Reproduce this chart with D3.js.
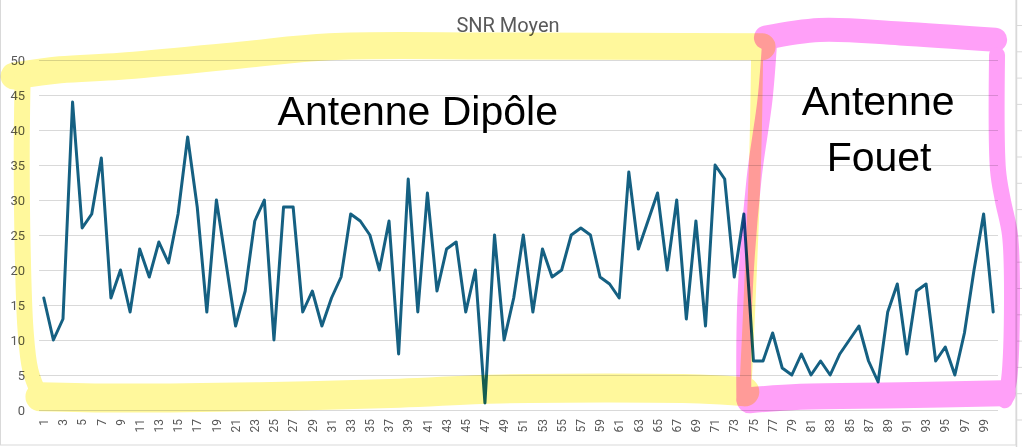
<!DOCTYPE html>
<html><head><meta charset="utf-8">
<script src="https://cdn.jsdelivr.net/npm/d3@7/dist/d3.min.js"></script>
<style>
html,body{margin:0;padding:0;background:#fff;}
svg{display:block;}
</style></head>
<body>
<svg id="chart" width="1022" height="447"></svg>
<script>
// ---- data ----
const categories = d3.range(1, 101).map(String);
const snrValues = [
  16,10,13,44,26,28,36,16,20,14,
  23,19,24,21,28,39,29,14,30,21,
  12,17,27,30,10,29,29,14,17,12,
  16,19,28,27,25,20,27,8,33,14,
  31,17,23,24,14,20,1,25,10,16,
  25,14,23,19,20,25,26,25,19,18,
  16,34,23,27,31,20,30,13,27,12,
  35,33,19,28,7,7,11,6,5,8,
  5,7,5,8,10,12,7,4,14,18,
  8,17,18,7,9,5,11,20,28,14
];
const yTicks = [0,5,10,15,20,25,30,35,40,45,50];
const xTickLabels = categories.filter((c,i) => i % 2 === 0);
const chartTitle = "SNR Moyen";
const labelDipole = "Antenne Dipôle";
const labelFouet = ["Antenne", "Fouet"];

// annotation strokes, in data space [category index, value]
const yellowTop = [[-2.1,47.7],[2.7,48.6],[9,49.1],[21.5,50.7],[30.8,51.9],[48.6,52],[75.9,51.9]];
const yellowLeft = [[-1.2,47.9],[-1.3,37.1],[-1.2,22.9],[-0.9,11.4],[-0.4,5.7],[0.6,2.0]];
const yellowBottom = [[0.6,1.9],[9,1.7],[23.5,1.9],[38.1,2.4],[48.6,3.0],[69.4,3.0],[74.1,2.6]];
const yellowRight = [[75.4,52.9],[75.2,37.1],[74.6,15.7],[74.1,1.4]];
const pinkTop = [[76.3,53.2],[81.9,54.3],[90.3,53.8],[100.2,52.9]];
const pinkRight = [[100.4,50.7],[100.5,34.3],[101.0,30],[101.75,25],[101.96,15.7],[101.65,4.3],[101.2,1.4]];
const pinkBottom = [[101,2.4],[90.3,2.1],[79.9,1.9],[74.6,1.4]];
const pinkLeft = [[76.7,52.9],[76.2,44.3],[75.05,32.9],[74.1,15.7],[74.0,1.4]];

// ---- layout ----
const svg = d3.select("#chart");
const W = 1022, H = 447;
const plot = {left: 39, right: 998, top: 60, bottom: 410};

const x = d3.scaleBand().domain(categories).range([plot.left, plot.right]).padding(0);
const xc = c => x(c) + x.bandwidth() / 2;
const xi = d3.scaleLinear().domain([0.5, 100.5]).range([plot.left, plot.right]);
const y = d3.scaleLinear().domain([0, 50]).range([plot.bottom, plot.top]);

// chart frame
svg.append("rect").attr("x", 0.5).attr("y", -5).attr("width", 1015.5).attr("height", 450)
  .attr("fill", "none").attr("stroke", "#d9d9d9").attr("stroke-width", 1);
svg.append("line").attr("x1", 1016.5).attr("x2", 1016.5).attr("y1", 0).attr("y2", H)
  .attr("stroke", "#d9d9d9").attr("stroke-width", 1.5);
// neighbouring chart gridline stubs
svg.append("g").selectAll("line").data(d3.range(16)).join("line")
  .attr("x1", 1017).attr("x2", W).attr("y1", d => 25.5 + d * 26.3).attr("y2", d => 25.5 + d * 26.3)
  .attr("stroke", "#d9d9d9");

// gridlines
svg.append("g").selectAll("line").data(yTicks).join("line")
  .attr("x1", plot.left).attr("x2", plot.right)
  .attr("y1", d => Math.round(y(d)) + 0.5).attr("y2", d => Math.round(y(d)) + 0.5)
  .attr("stroke", "#d9d9d9").attr("stroke-width", 1);

// y labels
svg.append("g").selectAll("text").data(yTicks).join("text")
  .attr("x", 25).attr("y", d => y(d)).attr("dy", "0.35em")
  .attr("text-anchor", "end")
  .attr("font-family", "Roboto, 'Liberation Sans', sans-serif")
  .attr("font-size", 13).attr("fill", "#595959")
  .text(d => d);

// x labels
svg.append("g").selectAll("text").data(xTickLabels).join("text")
  .attr("transform", d => `translate(${xc(d)},419) rotate(-90)`)
  .attr("dy", "0.35em").attr("text-anchor", "end")
  .attr("font-family", "Roboto, 'Liberation Sans', sans-serif")
  .attr("font-size", 12).attr("fill", "#595959")
  .text(d => d);

// title
svg.append("text").attr("x", 508).attr("y", 32).attr("text-anchor", "middle")
  .attr("font-family", "Roboto, 'Liberation Sans', sans-serif")
  .attr("font-size", 20).attr("fill", "#595959").text(chartTitle);

// data line
const line = d3.line().x((d, i) => xc(categories[i])).y(d => y(d));
svg.append("path").datum(snrValues).attr("d", line)
  .attr("fill", "none").attr("stroke", "#156082").attr("stroke-width", 3)
  .attr("stroke-linejoin", "round").attr("stroke-linecap", "round");

// annotations (highlighter)
const aLine = d3.line().x(d => xi(d[0])).y(d => y(d[1])).curve(d3.curveCatmullRom);
function marker(color, strokes) {
  const g = svg.append("g").style("mix-blend-mode", "multiply");
  strokes.forEach(([pts, w]) => {
    g.append("path").attr("d", aLine(pts)).attr("fill", "none")
      .attr("stroke", color).attr("stroke-width", w)
      .attr("stroke-linecap", "round").attr("stroke-linejoin", "round");
  });
}
marker("#fff89c", [[yellowTop, 27], [yellowLeft, 16], [yellowBottom, 29], [yellowRight, 12]]);
marker("#ffa0f8", [[pinkTop, 24], [pinkRight, 16], [pinkBottom, 26], [pinkLeft, 15]]);

// annotation texts
const annFont = "'Liberation Sans', Arial, sans-serif";
svg.append("text").attr("x", xi(40.0)).attr("y", y(40.7)).attr("text-anchor", "middle")
  .attr("font-family", annFont).attr("font-size", 41).attr("fill", "#000").text(labelDipole);
svg.append("text").attr("x", xi(88.0)).attr("y", y(42.1)).attr("text-anchor", "middle")
  .attr("font-family", annFont).attr("font-size", 41).attr("fill", "#000").text(labelFouet[0]);
svg.append("text").attr("x", xi(88.1)).attr("y", y(34.1)).attr("text-anchor", "middle")
  .attr("font-family", annFont).attr("font-size", 41).attr("fill", "#000").text(labelFouet[1]);
</script>
</body></html>
